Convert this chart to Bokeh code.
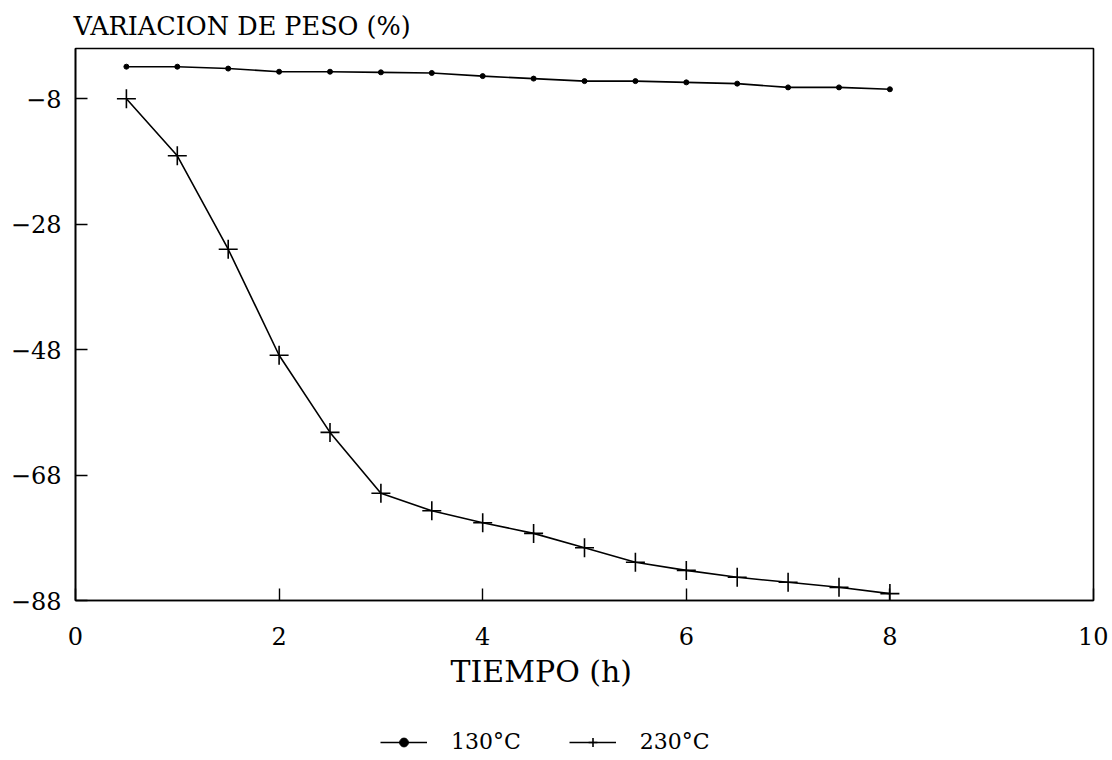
from bokeh.plotting import figure
from bokeh.layouts import column
from bokeh.models import (FixedTicker, Legend, LegendItem, Range1d, Title)
from bokeh.embed import file_html
from bokeh.resources import INLINE

# ---- data ----
tiempo = [0.5, 1, 1.5, 2, 2.5, 3, 3.5, 4, 4.5, 5, 5.5, 6, 6.5, 7, 7.5, 8]
peso_130 = [-2.9, -2.9, -3.2, -3.7, -3.7, -3.8, -3.9, -4.4, -4.8, -5.2, -5.2,
            -5.4, -5.6, -6.2, -6.2, -6.5]
peso_230 = [-8.0, -17.1, -32.0, -48.9, -61.2, -70.9, -73.7, -75.6, -77.3,
            -79.6, -81.9, -83.2, -84.3, -85.1, -85.9, -86.9]
x_ticks = [0, 2, 4, 6, 8, 10]
y_ticks = [-8, -28, -48, -68, -88]
y_tick_labels = {t: "\u2212" + str(abs(t)) for t in y_ticks}
series_names = ["130\u00b0C", "230\u00b0C"]
y_title = "VARIACION DE PESO (%)"
x_title = "TIEMPO (h)"

FONT = "DejaVu Serif"
W = 1108

p = figure(width=W, height=720, output_backend="svg", toolbar_location=None,
           x_range=Range1d(0, 10), y_range=Range1d(-88, 0),
           min_border_left=75, min_border_right=15, min_border_top=48,
           min_border_bottom=120)
p.grid.visible = False
p.outline_line_color = "black"
p.outline_line_width = 1.6
p.background_fill_color = "white"
p.border_fill_color = "white"

p.title.text = y_title
p.title.align = "left"
p.title.offset = -2
p.title.standoff = 15
p.title.text_font = FONT
p.title.text_font_size = "25.5px"
p.title.text_font_style = "normal"
p.title.text_color = "black"

for ax in (p.xaxis[0], p.yaxis[0]):
    ax.axis_line_color = "black"
    ax.axis_line_width = 1.6
    ax.major_tick_line_color = "black"
    ax.major_tick_line_width = 1.4
    ax.major_tick_in = 12
    ax.major_tick_out = 0
    ax.minor_tick_line_color = None
    ax.major_label_text_font = FONT
    ax.major_label_text_font_size = "24px"
    ax.major_label_text_color = "black"

p.xaxis.ticker = FixedTicker(ticks=x_ticks)
p.yaxis.ticker = FixedTicker(ticks=y_ticks)
p.yaxis.major_label_overrides = y_tick_labels
p.xaxis.major_label_standoff = 26
p.yaxis.major_label_standoff = 14

p.line(tiempo, peso_130, line_color="black", line_width=1.6)
p.scatter(tiempo, peso_130, marker="circle", size=5, fill_color="black",
          line_color="black")
p.line(tiempo, peso_230, line_color="black", line_width=1.6)
p.scatter(tiempo, peso_230, marker="cross", size=19, line_color="black",
          line_width=1.6)

xt = Title(text=x_title, align="left", offset=375, standoff=9,
           text_font=FONT, text_font_size="30px", text_font_style="normal",
           text_color="black")
p.add_layout(xt, "below")

# legend row: same series and styles, kept out of this strip's view
q = figure(width=W, height=36, output_backend="svg", toolbar_location=None,
           x_range=p.x_range, y_range=Range1d(100, 200),
           x_axis_location=None, y_axis_location=None,
           min_border=0, min_border_left=75, min_border_right=15,
           min_border_top=0, min_border_bottom=0)
q.grid.visible = False
q.outline_line_color = None
q.border_fill_color = "white"
q.background_fill_color = "white"
l1 = q.line(tiempo, peso_130, line_color="black", line_width=1.6)
s1 = q.scatter(tiempo, peso_130, marker="circle", size=5, fill_color="black",
               line_color="black")
l2 = q.line(tiempo, peso_230, line_color="black", line_width=1.6)
s2 = q.scatter(tiempo, peso_230, marker="cross", size=19, line_color="black",
               line_width=1.6)
legend = Legend(items=[LegendItem(label=series_names[0], renderers=[l1, s1]),
                       LegendItem(label=series_names[1], renderers=[l2, s2])],
                orientation="horizontal", location=(305, 2),
                padding=0, margin=0, spacing=48, label_standoff=24,
                glyph_width=47, glyph_height=22, label_height=22,
                border_line_color=None, background_fill_alpha=0,
                label_text_font=FONT, label_text_font_size="22px",
                label_text_color="black")
q.add_layout(legend, "center")

layout = column(p, q, spacing=0)
open("out.html", "w").write(file_html(layout, INLINE))
